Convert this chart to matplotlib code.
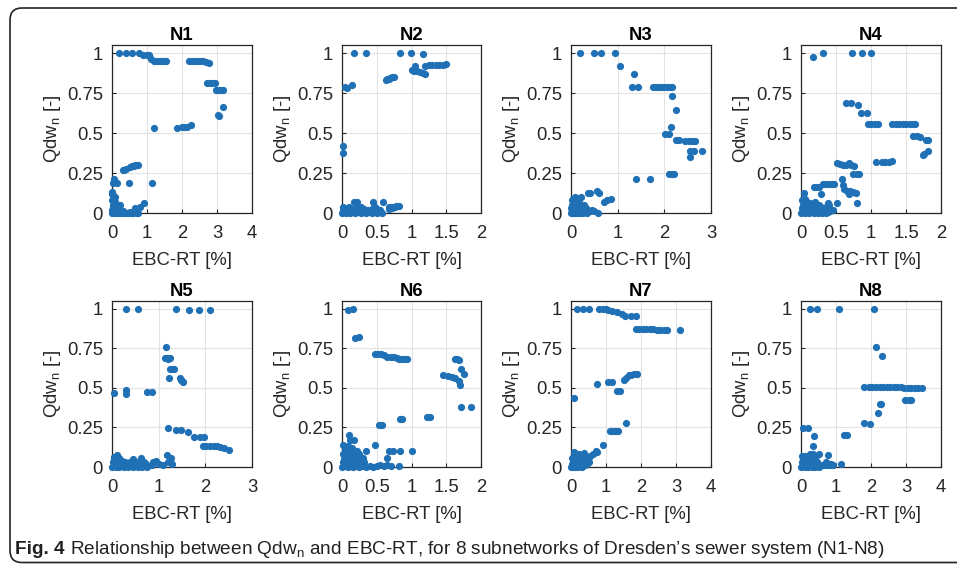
import matplotlib
matplotlib.use('Agg')
import matplotlib.pyplot as plt
from matplotlib.patches import FancyBboxPatch

plt.rcParams['font.family'] = ['Liberation Sans', 'DejaVu Sans']
plt.rcParams['mathtext.fontset'] = 'custom'
plt.rcParams['mathtext.rm'] = 'Liberation Sans'
plt.rcParams['mathtext.it'] = 'Liberation Sans:italic'
plt.rcParams['mathtext.bf'] = 'Liberation Sans:bold'

# ---------------- data ----------------
names = ['N1', 'N2', 'N3', 'N4', 'N5', 'N6', 'N7', 'N8']
x_max = [4, 2, 3, 2, 3, 2, 4, 4]
y_ticks = [0, 0.25, 0.5, 0.75, 1]
y_tick_labels = ['0', '0.25', '0.5', '0.75', '1']

n1_x = ([0.21, 0.40, 0.58, 0.76, 0.89, 1.00, 1.06, 1.10, 1.20, 1.28, 1.36, 1.44, 1.50, 1.55]
        + [2.20, 2.28, 2.36, 2.44, 2.52, 2.60, 2.68, 2.78]
        + [2.72, 2.79, 2.86, 2.93, 2.98, 3.05, 3.10, 3.16, 3.16, 3.02, 3.05]
        + [1.19, 1.86, 2.00, 2.06, 2.14, 2.26]
        + [0.52, 0.57, 0.62, 0.66, 0.70, 0.74, 0.30, 0.34, 0.40]
        + [0.05, 0.14, 0.04, 0.48, 1.14, 0.00, 0.03, 0.09, 0.01, 0.24, 0.67, 0.79, 0.90]
        + [0.00, 0.03, 0.06, 0.09, 0.12, 0.16, 0.20, 0.25, 0.30, 0.35, 0.40, 0.45, 0.50, 0.55, 0.60, 0.65, 0.70, 0.75]
        + [0.00, 0.02, 0.04, 0.06, 0.08, 0.10, 0.13, 0.17, 0.22, 0.30, 0.02, 0.05, 0.08, 0.11, 0.01, 0.04, 0.07])
n1_y = ([1.0, 1.0, 1.0, 1.0, 0.99, 0.99, 0.985, 0.965, 0.95, 0.95, 0.948, 0.948, 0.948, 0.948]
        + [0.95, 0.95, 0.95, 0.95, 0.95, 0.948, 0.945, 0.94]
        + [0.815, 0.815, 0.812, 0.81, 0.77, 0.767, 0.767, 0.767, 0.66, 0.615, 0.605]
        + [0.534, 0.534, 0.536, 0.536, 0.538, 0.548]
        + [0.29, 0.294, 0.296, 0.298, 0.30, 0.30, 0.27, 0.27, 0.272]
        + [0.21, 0.19, 0.185, 0.19, 0.19, 0.13, 0.11, 0.10, 0.12, 0.05, 0.03, 0.04, 0.06]
        + [0.0, 0.005, 0.0, 0.005, 0.0, 0.0, 0.005, 0.0, 0.0, 0.005, 0.0, 0.0, 0.005, 0.0, 0.0, 0.005, 0.0, 0.0]
        + [0.02, 0.03, 0.02, 0.015, 0.025, 0.02, 0.015, 0.01, 0.012, 0.01, 0.05, 0.06, 0.07, 0.05, 0.08, 0.04, 0.035])

n2_x = ([0.17, 0.35, 0.84, 0.99, 1.17, 0.05, 0.07, 0.14]
        + [0.63, 0.65, 0.67, 0.69, 0.72, 0.75, 1.01, 1.05, 1.04, 1.08, 1.12, 1.16, 1.20]
        + [1.20, 1.25, 1.30, 1.35, 1.40, 1.45, 1.49, 0.02, 0.02]
        + [0.17, 0.22, 0.44, 0.59, 0.67, 0.70, 0.74, 0.78, 0.82, 0.68, 0.72, 0.76]
        + [0.00, 0.03, 0.06, 0.09, 0.12, 0.15, 0.19, 0.23, 0.27, 0.31, 0.35, 0.39, 0.43, 0.47, 0.51, 0.55, 0.58]
        + [0.01, 0.04, 0.08, 0.12, 0.16, 0.20, 0.26, 0.32, 0.38, 0.44, 0.50, 0.55, 0.02, 0.10, 0.28, 0.48])
n2_y = ([1.0, 1.0, 1.0, 1.0, 0.995, 0.788, 0.784, 0.80]
        + [0.83, 0.835, 0.84, 0.845, 0.848, 0.85, 0.893, 0.92, 0.89, 0.885, 0.88, 0.875, 0.87]
        + [0.92, 0.922, 0.923, 0.924, 0.925, 0.927, 0.93, 0.416, 0.374]
        + [0.07, 0.07, 0.07, 0.07, 0.035, 0.04, 0.04, 0.042, 0.045, 0.025, 0.03, 0.035]
        + [0.0, 0.005, 0.0, 0.005, 0.0, 0.005, 0.0, 0.005, 0.0, 0.005, 0.0, 0.005, 0.0, 0.005, 0.0, 0.005, 0.0]
        + [0.02, 0.025, 0.03, 0.02, 0.025, 0.03, 0.02, 0.025, 0.02, 0.03, 0.025, 0.02, 0.04, 0.035, 0.04, 0.035])

n3_x = ([0.20, 0.49, 0.64, 0.95, 1.06, 1.34, 1.31, 1.43]
        + [1.76, 1.82, 1.88, 1.94, 2.00, 2.06, 2.12, 2.16, 2.16, 2.24]
        + [2.14, 2.02, 2.11, 2.24, 2.31, 2.45, 2.52, 2.59, 2.66, 2.56, 2.64, 2.81, 2.56]
        + [2.10, 2.16, 2.21, 1.39, 1.70, 0.36, 0.40, 0.56, 0.59, 0.70, 0.77, 0.86, 0.57]
        + [0.00, 0.02, 0.04, 0.06, 0.08, 0.10, 0.12, 0.14, 0.16, 0.18, 0.20, 0.23, 0.26, 0.30, 0.35, 0.40, 0.45, 0.50]
        + [0.01, 0.03, 0.05, 0.07, 0.09, 0.11, 0.13, 0.15, 0.17, 0.20, 0.24, 0.28, 0.33, 0.02, 0.05, 0.08, 0.11, 0.14, 0.18, 0.22])
n3_y = ([1.0, 1.0, 1.0, 1.0, 0.92, 0.868, 0.79, 0.79]
        + [0.79, 0.79, 0.79, 0.79, 0.79, 0.79, 0.79, 0.79, 0.731, 0.643]
        + [0.538, 0.496, 0.496, 0.454, 0.454, 0.447, 0.447, 0.45, 0.447, 0.387, 0.387, 0.387, 0.349]
        + [0.244, 0.244, 0.244, 0.21, 0.21, 0.126, 0.126, 0.137, 0.126, 0.07, 0.08, 0.086, 0.0]
        + [0.0, 0.01, 0.0, 0.01, 0.0, 0.01, 0.0, 0.01, 0.0, 0.01, 0.0, 0.01, 0.0, 0.01, 0.0, 0.01, 0.02, 0.01]
        + [0.03, 0.05, 0.04, 0.06, 0.03, 0.05, 0.04, 0.06, 0.03, 0.04, 0.03, 0.05, 0.03, 0.08, 0.09, 0.10, 0.08, 0.09, 0.07, 0.10])

n4_x = ([0.17, 0.31, 0.73, 0.87, 1.00, 0.64, 0.72, 0.81, 0.85, 0.94]
        + [0.95, 1.00, 1.05, 1.10, 1.30, 1.35, 1.40, 1.45, 1.50, 1.55, 1.60, 1.63]
        + [1.60, 1.65, 1.70, 1.78, 1.82, 1.74, 1.76, 1.81]
        + [1.07, 1.15, 1.20, 1.25, 1.30, 0.52, 0.56, 0.60, 0.64, 0.68, 0.72, 0.76]
        + [0.74, 0.80, 0.83, 0.32, 0.36, 0.40, 0.44, 0.47, 0.18, 0.22, 0.25, 0.59, 0.60]
        + [0.66, 0.70, 0.74, 0.78, 0.28, 0.80, 0.51, 0.04, 0.62, 0.68]
        + [0.00, 0.03, 0.06, 0.09, 0.12, 0.15, 0.18, 0.21, 0.24, 0.27, 0.30, 0.33, 0.36, 0.39, 0.42, 0.45]
        + [0.01, 0.03, 0.05, 0.08, 0.11, 0.14, 0.18, 0.22, 0.26, 0.30, 0.35, 0.40, 0.02, 0.05, 0.09, 0.13, 0.20, 0.28, 0.38])
n4_y = ([0.973, 1.0, 1.0, 1.0, 1.0, 0.689, 0.689, 0.672, 0.626, 0.626]
        + [0.559, 0.559, 0.559, 0.559, 0.559, 0.559, 0.559, 0.559, 0.559, 0.559, 0.557, 0.555]
        + [0.479, 0.479, 0.475, 0.454, 0.454, 0.364, 0.37, 0.39]
        + [0.316, 0.318, 0.318, 0.32, 0.322, 0.31, 0.305, 0.30, 0.30, 0.31, 0.30, 0.295]
        + [0.244, 0.244, 0.244, 0.18, 0.18, 0.182, 0.182, 0.182, 0.165, 0.165, 0.165, 0.21, 0.174]
        + [0.14, 0.137, 0.13, 0.128, 0.118, 0.06, 0.06, 0.126, 0.15, 0.12]
        + [0.0, 0.005, 0.0, 0.005, 0.0, 0.005, 0.0, 0.005, 0.0, 0.005, 0.0, 0.005, 0.0, 0.005, 0.01, 0.02]
        + [0.03, 0.05, 0.04, 0.06, 0.03, 0.05, 0.04, 0.03, 0.05, 0.02, 0.04, 0.05, 0.08, 0.09, 0.07, 0.06, 0.07, 0.04, 0.06])

n5_x = ([0.29, 0.56, 1.38, 1.64, 1.86, 2.09, 1.16, 1.14, 1.18, 1.21, 1.25]
        + [1.25, 1.29, 1.32, 1.22, 1.45, 1.47, 1.49, 1.52]
        + [0.05, 0.31, 0.31, 0.75, 0.86]
        + [1.21, 1.38, 1.48, 1.62, 1.75, 1.89, 1.98, 1.95, 2.02, 2.10, 2.18, 2.25, 2.32, 2.40, 2.50]
        + [1.18, 1.26, 1.20, 1.28, 0.88, 0.95, 1.00, 0.85, 1.10]
        + [0.00, 0.04, 0.08, 0.12, 0.16, 0.20, 0.25, 0.30, 0.35, 0.40, 0.45, 0.50, 0.55, 0.60, 0.65, 0.70, 0.75]
        + [0.02, 0.05, 0.08, 0.11, 0.14, 0.18, 0.22, 0.27, 0.32, 0.38, 0.44, 0.50, 0.56, 0.62, 0.68, 0.73, 0.04, 0.10, 0.16, 0.45, 0.62])
n5_y = ([1.0, 1.0, 1.0, 0.996, 0.996, 0.996, 0.759, 0.692, 0.69, 0.686, 0.69]
        + [0.623, 0.623, 0.618, 0.56, 0.56, 0.55, 0.545, 0.539]
        + [0.465, 0.49, 0.46, 0.472, 0.472]
        + [0.245, 0.235, 0.235, 0.22, 0.19, 0.19, 0.19, 0.134, 0.134, 0.134, 0.132, 0.13, 0.125, 0.12, 0.105]
        + [0.078, 0.057, 0.03, 0.02, 0.03, 0.035, 0.02, 0.015, 0.01]
        + [0.0, 0.005, 0.0, 0.005, 0.0, 0.005, 0.0, 0.005, 0.0, 0.005, 0.0, 0.005, 0.0, 0.005, 0.0, 0.005, 0.0]
        + [0.03, 0.05, 0.04, 0.06, 0.05, 0.03, 0.04, 0.03, 0.02, 0.03, 0.04, 0.02, 0.03, 0.04, 0.03, 0.02, 0.065, 0.075, 0.06, 0.05, 0.06])

n6_x = ([0.09, 0.16, 0.18, 0.24, 0.48, 0.52, 0.56, 0.60, 0.65, 0.70, 0.75, 0.79, 0.82, 0.86, 0.90, 0.94]
        + [1.63, 1.65, 1.68, 1.71, 1.75, 1.46, 1.53, 1.58, 1.63, 1.68, 1.70]
        + [1.71, 1.85, 1.22, 1.26, 0.84, 0.86, 0.53, 0.58, 0.10]
        + [0.02, 0.12, 0.17, 0.48, 0.34, 0.67, 0.74, 0.84, 1.00, 0.65, 0.82]
        + [0.00, 0.04, 0.08, 0.12, 0.16, 0.20, 0.25, 0.30, 0.35, 0.40, 0.45, 0.50, 0.55, 0.60, 0.65, 0.70]
        + [0.01, 0.03, 0.05, 0.07, 0.09, 0.11, 0.13, 0.15, 0.18, 0.21, 0.24, 0.28, 0.32,
           0.02, 0.05, 0.08, 0.11, 0.14, 0.17, 0.20, 0.25, 0.30, 0.04, 0.09, 0.15, 0.22])
n6_y = ([0.994, 1.0, 0.818, 0.822, 0.713, 0.713, 0.713, 0.71, 0.696, 0.696, 0.694, 0.69, 0.685, 0.685, 0.685, 0.685]
        + [0.68, 0.68, 0.675, 0.617, 0.59, 0.58, 0.575, 0.57, 0.565, 0.545, 0.52]
        + [0.38, 0.377, 0.317, 0.317, 0.302, 0.302, 0.266, 0.266, 0.203]
        + [0.14, 0.17, 0.17, 0.14, 0.10, 0.10, 0.10, 0.10, 0.10, 0.057, 0.004]
        + [0.0, 0.005, 0.0, 0.005, 0.0, 0.005, 0.0, 0.005, 0.0, 0.005, 0.0, 0.005, 0.01, 0.005, 0.01, 0.005]
        + [0.03, 0.05, 0.04, 0.06, 0.03, 0.05, 0.04, 0.06, 0.03, 0.05, 0.03, 0.04, 0.03,
           0.08, 0.09, 0.10, 0.08, 0.11, 0.09, 0.07, 0.08, 0.06, 0.12, 0.13, 0.12, 0.10])

n7_x = ([0.17, 0.33, 0.50, 0.80, 0.90, 1.00, 1.05, 1.17, 1.31, 1.46, 1.55, 1.70, 1.86]
        + [1.86, 1.95, 2.05, 2.15, 2.25, 2.35, 2.45, 2.55, 2.65, 2.74, 3.10]
        + [0.74, 1.05, 1.17, 1.31, 1.41, 1.52, 1.57, 1.65, 1.72, 1.80, 1.88]
        + [0.08, 1.58, 1.10, 1.16, 1.22, 1.28, 1.35, 0.91, 0.74, 0.62, 0.55]
        + [0.08, 0.38, 0.70, 0.50, 0.45]
        + [0.00, 0.03, 0.06, 0.09, 0.12, 0.16, 0.20, 0.25, 0.30, 0.35, 0.40, 0.45, 0.50]
        + [0.02, 0.05, 0.08, 0.11, 0.14, 0.18, 0.22, 0.26, 0.30, 0.34, 0.04, 0.10, 0.16, 0.22, 0.28, 0.40])
n7_y = ([1.0, 1.0, 1.0, 1.0, 1.0, 1.0, 0.995, 0.985, 0.98, 0.97, 0.955, 0.955, 0.955]
        + [0.872, 0.872, 0.872, 0.872, 0.872, 0.872, 0.868, 0.865, 0.865, 0.865, 0.865]
        + [0.527, 0.54, 0.54, 0.483, 0.483, 0.55, 0.56, 0.58, 0.585, 0.59, 0.59]
        + [0.437, 0.281, 0.225, 0.225, 0.225, 0.225, 0.225, 0.142, 0.094, 0.08, 0.07]
        + [0.094, 0.09, 0.1, 0.065, 0.06]
        + [0.0, 0.005, 0.0, 0.005, 0.0, 0.005, 0.0, 0.005, 0.0, 0.01, 0.01, 0.02, 0.03]
        + [0.02, 0.04, 0.03, 0.05, 0.03, 0.04, 0.05, 0.03, 0.04, 0.05, 0.06, 0.07, 0.06, 0.08, 0.07, 0.04])

n8_x = ([0.25, 0.46, 1.08, 2.08, 2.14, 2.31]
        + [1.81, 1.93, 2.04, 2.14, 2.25, 2.35, 2.45, 2.55, 2.65, 2.75, 2.85, 2.95, 3.05, 3.15, 3.25, 3.35, 3.45]
        + [2.98, 3.08, 3.14, 2.25, 2.29, 2.19, 1.79, 1.98, 1.22, 1.31, 0.36, 0.34, 0.06, 0.20]
        + [0.50, 0.76, 1.14, 0.80, 0.85, 0.70]
        + [0.00, 0.05, 0.10, 0.15, 0.20, 0.25, 0.30, 0.35, 0.40, 0.45, 0.50, 0.55, 0.60, 0.65, 0.70, 0.75, 0.80, 0.85, 0.90]
        + [0.02, 0.05, 0.08, 0.12, 0.16, 0.20, 0.25, 0.30, 0.35, 0.40, 0.46, 0.04, 0.10, 0.18, 0.26, 0.34, 0.42])
n8_y = ([1.0, 1.0, 1.0, 1.0, 0.76, 0.702]
        + [0.506, 0.506, 0.506, 0.506, 0.506, 0.506, 0.506, 0.506, 0.506, 0.506, 0.506, 0.5, 0.497, 0.497, 0.497, 0.497, 0.497]
        + [0.423, 0.423, 0.423, 0.40, 0.40, 0.34, 0.281, 0.27, 0.204, 0.204, 0.194, 0.131, 0.246, 0.246]
        + [0.083, 0.077, 0.017, 0.02, 0.015, 0.03]
        + [0.0, 0.005, 0.0, 0.005, 0.0, 0.005, 0.0, 0.005, 0.0, 0.005, 0.0, 0.005, 0.01, 0.015, 0.01, 0.02, 0.01, 0.02, 0.015]
        + [0.03, 0.05, 0.04, 0.06, 0.03, 0.05, 0.04, 0.06, 0.04, 0.05, 0.03, 0.07, 0.07, 0.06, 0.08, 0.08, 0.07])

xs = [n1_x, n2_x, n3_x, n4_x, n5_x, n6_x, n7_x, n8_x]
ys = [n1_y, n2_y, n3_y, n4_y, n5_y, n6_y, n7_y, n8_y]

caption_bold = 'Fig. 4'
caption_rest = ('Relationship between Qdw$_\\mathrm{n}$ and EBC-RT, for 8 subnetworks '
                'of Dresden\u2019s sewer system (N1-N8)')

# ---------------- layout ----------------
W, H = 957, 566
fig = plt.figure(figsize=(W / 100, H / 100), dpi=100)
fig.patch.set_facecolor('white')

col_left = [112, 342, 571, 801]
col_width = [140, 139, 140, 140]
row_span = [(45, 213), (301, 467)]
dot_color = '#1f70b5'
fs = 13.3
txt_color = '#262626'

def tick_fmt(v):
    return ('%g' % v)

for i, name in enumerate(names):
    r, c = divmod(i, 4)
    top, bot = row_span[r]
    ax = fig.add_axes([col_left[c] / W, 1 - bot / H, col_width[c] / W, (bot - top) / H])
    ax.scatter(xs[i], ys[i], s=27, color=dot_color, linewidths=0, zorder=3, clip_on=False)
    ax.set_xlim(0, x_max[i])
    ax.set_ylim(0, 1.05)
    step = 0.5 if x_max[i] == 2 else 1
    xt = [k * step for k in range(int(round(x_max[i] / step)) + 1)]
    ax.set_xticks(xt)
    ax.set_xticklabels([tick_fmt(v) for v in xt])
    ax.set_yticks(y_ticks)
    ax.set_yticklabels(y_tick_labels)
    ax.grid(True, color='#e3e3e3', linewidth=0.8)
    ax.set_axisbelow(True)
    ax.tick_params(direction='in', length=3, width=0.8, labelsize=fs, colors=txt_color)
    ax.tick_params(axis='x', pad=8.5)
    ax.tick_params(axis='y', pad=6.5)
    for sp in ax.spines.values():
        sp.set_linewidth(0.9)
        sp.set_color(txt_color)
    ax.set_title(name, fontsize=fs, fontweight='bold', pad=3.5)
    ax.set_xlabel('EBC-RT [%]', fontsize=fs, labelpad=7.5, color=txt_color)
    ax.set_ylabel('Qdw$_\\mathrm{n}$ [-]', fontsize=fs, labelpad=3, color=txt_color)

# rounded frame around the figure
frame = FancyBboxPatch((0.10, 0.035), 9.70, 5.545,
                       boxstyle='round,pad=0,rounding_size=0.12',
                       transform=fig.dpi_scale_trans, fill=False,
                       edgecolor='#222222', linewidth=1.2)
fig.add_artist(frame)

cap_y = (H - 549) / H
cap_fs = 13.0
t1 = fig.text(15 / W, cap_y, caption_bold, fontsize=cap_fs, fontweight='bold',
              va='center', ha='left', color='#222222')
t2 = fig.text(0, 0, caption_rest, fontsize=cap_fs, va='center', ha='left', color='#222222')
fig.canvas.draw()
rend = fig.canvas.get_renderer()
b1 = t1.get_window_extent(rend)
t2.set_position(((b1.x1 + 5) / W, cap_y))
fig.canvas.draw()
b2 = t2.get_window_extent(rend)
# fit caption width to the reference (ends at ~883 px)
scale = (883 - 15) / (b2.x1 - b1.x0)
cap_fs2 = cap_fs * scale
t1.set_fontsize(cap_fs2)
t2.set_fontsize(cap_fs2)
fig.canvas.draw()
b1 = t1.get_window_extent(rend)
t2.set_position(((b1.x1 + 5 * scale) / W, cap_y))

fig.savefig('out.png', dpi=100, facecolor='white')
